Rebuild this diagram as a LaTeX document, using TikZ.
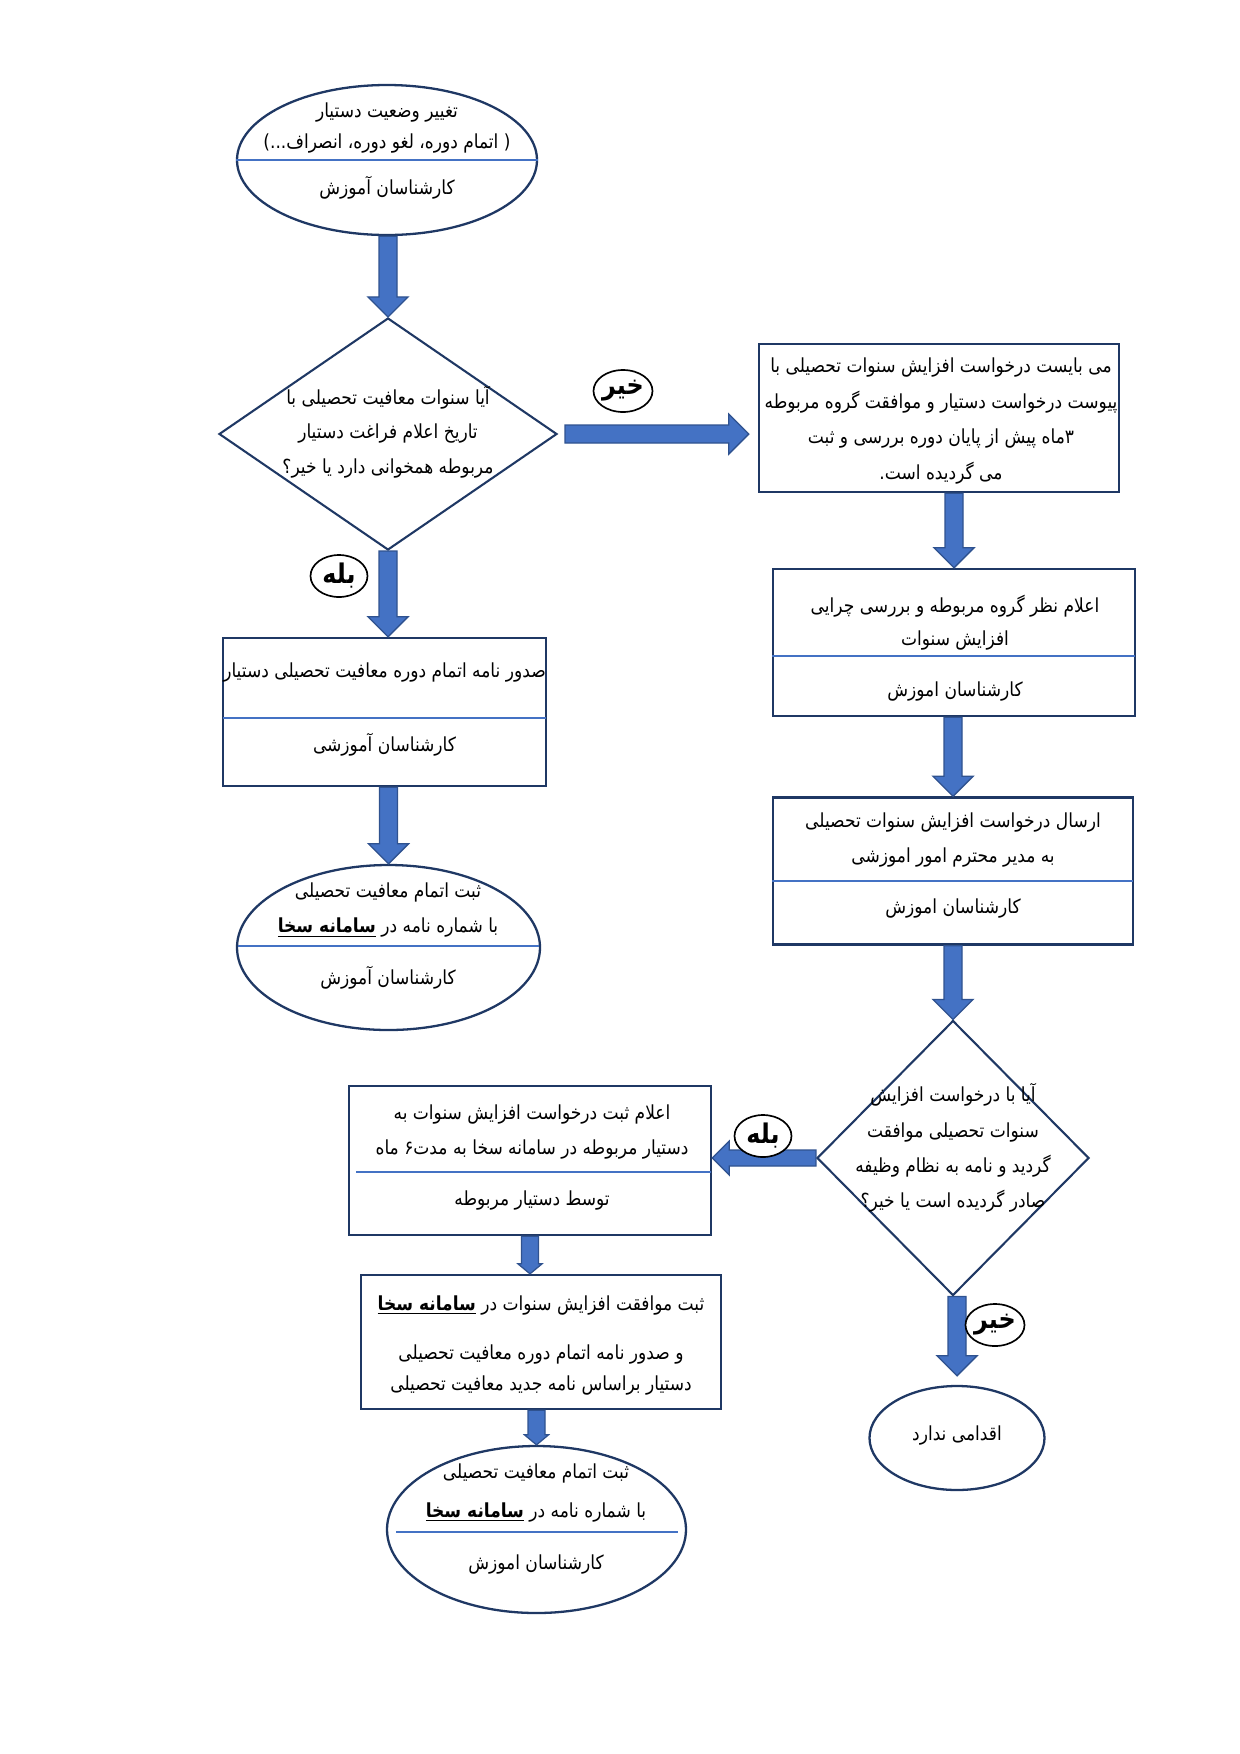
\documentclass[tikz,border=0pt]{standalone}
\usepackage{fontspec}
\usetikzlibrary{shapes.geometric,calc}
\TeXXeTstate=1
\newfontfamily\arabicfont[Script=Arabic, FakeStretch=0.88]{DejaVu Sans}
\newcommand\fa[1]{\beginR #1\endR}
\newcommand\sakha{\underline{\textbf{\beginR سامانه سخا\endR}}}
\definecolor{arrowblue}{HTML}{4472C4}
\definecolor{arrowedge}{HTML}{2F528F}
\definecolor{navy}{HTML}{1F3864}
\newcommand\varrow[5]{%
  \filldraw[barrow] let \p1=#1, \p2=#2 in
  (\x2-#3*0.48pt,\y1) -- (\x2-#3*0.48pt,\y2+#5*0.48pt) -- (\x2-#4*0.48pt,\y2+#5*0.48pt) --
  (\x2,\y2) -- (\x2+#4*0.48pt,\y2+#5*0.48pt) -- (\x2+#3*0.48pt,\y2+#5*0.48pt) -- (\x2+#3*0.48pt,\y1) -- cycle;}
\newcommand\harrow[6]{%
  \filldraw[barrow] let \p1=#1, \p2=#2 in
  (\x1,\y1-#3*0.48pt) -- (\x2#6#5*0.48pt,\y1-#3*0.48pt) -- (\x2#6#5*0.48pt,\y1-#4*0.48pt) --
  (\x2,\y1) -- (\x2#6#5*0.48pt,\y1+#4*0.48pt) -- (\x2#6#5*0.48pt,\y1+#3*0.48pt) -- (\x1,\y1+#3*0.48pt) -- cycle;}
\tikzset{
  box/.style={draw=navy, line width=1.1pt, fill=white, rectangle, inner sep=0pt},
  oval/.style={draw=navy, line width=1.1pt, fill=white, ellipse, inner sep=0pt},
  decision/.style={draw=navy, line width=1pt, fill=white, diamond, inner sep=0pt},
  txt/.style={font=\arabicfont\fontsize{9.3}{14.5}\selectfont, align=center, inner sep=0pt},
  divider/.style={draw=arrowblue, line width=0.5pt},
  tag/.style={draw=black, line width=0.8pt, fill=white, ellipse, minimum width=57*0.48pt, minimum height=42*0.48pt, inner sep=0pt, font=\arabicfont\bfseries\fontsize{13}{14}\selectfont},
  barrow/.style={fill=arrowblue, draw=arrowedge, line width=0.6pt}
}
\begin{document}
\begin{tikzpicture}[x=0.48pt, y=-0.48pt]
\useasboundingbox (0,0) rectangle (1240,1754);
% ---- shapes
\node[oval, minimum width=300*0.48pt, minimum height=150*0.48pt] (e1) at (387,160) {};
\node[decision, minimum width=338*0.48pt, minimum height=232*0.48pt] (d1) at (388,434) {};
\node[box, minimum width=323*0.48pt, minimum height=148*0.48pt] (b1) at (384.5,712) {};
\node[oval, minimum width=303*0.48pt, minimum height=165*0.48pt] (e2) at (388.5,947.5) {};
\node[box, minimum width=360*0.48pt, minimum height=148*0.48pt] (r1) at (939,418) {};
\node[box, minimum width=362*0.48pt, minimum height=147*0.48pt] (r2) at (954,642.5) {};
\node[box, minimum width=360*0.48pt, minimum height=147*0.48pt] (r3) at (953,871) {};
\node[decision, minimum width=272*0.48pt, minimum height=275*0.48pt] (d2) at (953,1158) {};
\node[box, minimum width=362*0.48pt, minimum height=149*0.48pt] (b4) at (530,1160.5) {};
\node[box, minimum width=360*0.48pt, minimum height=134*0.48pt] (b5) at (541,1342) {};
\node[oval, minimum width=299*0.48pt, minimum height=167*0.48pt] (e3) at (536.5,1529.5) {};
\node[oval, minimum width=175*0.48pt, minimum height=104*0.48pt] (er) at (957,1438) {};
% ---- dividers
\draw[divider] (e1.west) -- (e1.east);
\coordinate (b1dl) at (223,718); \coordinate (b1dr) at (546,718);
\draw[divider] (b1dl) -- (b1dr);
\coordinate (e2dl) at (238,946); \coordinate (e2dr) at (539,946);
\draw[divider] (e2dl) -- (e2dr);
\coordinate (r2dl) at (772,656); \coordinate (r2dr) at (1135,656);
\draw[divider] (r2dl) -- (r2dr);
\coordinate (r3dl) at (772,881); \coordinate (r3dr) at (1133,881);
\draw[divider] (r3dl) -- (r3dr);
\coordinate (b4dl) at (356,1172); \coordinate (b4dr) at (711,1172);
\draw[divider] (b4dl) -- (b4dr);
\coordinate (e3dl) at (396,1532); \coordinate (e3dr) at (678,1532);
\draw[divider] (e3dl) -- (e3dr);
% ---- arrows
\varrow{(e1.south)}{(d1.north)}{9}{20}{20}
\varrow{(d1.south)}{(b1.north -| d1.south)}{9}{20}{20}
\varrow{(b1.south)}{(e2.north)}{9}{20}{20}
\harrow{($(d1.east)+(7,0)$)}{($(r1.west |- d1.east)+(-9,0)$)}{9}{20}{20}{-}
\varrow{(r1.south)}{(r2.north)}{9}{20}{20}
\varrow{(r2.south)}{(r3.north)}{9}{20}{20}
\varrow{(r3.south)}{(d2.north)}{9}{20}{20}
\harrow{(d2.west)}{(b4.east |- d2.west)}{8}{17}{17}{+}
\varrow{(b4.south)}{(b5.north -| b4.south)}{8.5}{12}{10}
\varrow{(b5.south)}{(e3.north)}{8.5}{12}{10}
\varrow{(d2.south)}{($(er.north)+(0,-9)$)}{9}{20}{20}
% ---- texts
\node[txt] (te1a) at (387,128) {\fa{تغییر وضعیت دستیار}\\\fa{( اتمام دوره، لغو دوره، انصراف...)}};
\node[txt] (te1b) at (387,188) {\fa{کارشناسان آموزش}};
\node[txt, font=\arabicfont\fontsize{9.3}{16.5}\selectfont] (td1) at (388,432) {\fa{آیا سنوات معافیت تحصیلی با}\\\fa{تاریخ اعلام فراغت دستیار}\\\fa{مربوطه همخوانی دارد یا خیر؟}};
\node[txt] (tb1a) at (384.5,672) {\fa{صدور نامه اتمام دوره معافیت تحصیلی دستیار}};
\node[txt] (tb1b) at (384.5,745) {\fa{کارشناسان آموزشی}};
\node[txt, font=\arabicfont\fontsize{9.3}{17}\selectfont] (te2a) at (388,910) {\fa{ثبت اتمام معافیت تحصیلی}\\\fa{با شماره نامه در \sakha}};
\node[txt] (te2b) at (388,978) {\fa{کارشناسان آموزش}};
\node[txt, font=\arabicfont\fontsize{9.3}{17.2}\selectfont] (tr1) at (941,421) {\fa{می بایست درخواست افزایش سنوات تحصیلی با}\\\fa{پیوست درخواست دستیار و موافقت گروه مربوطه}\\\fa{۳ماه پیش از پایان دوره بررسی و ثبت}\\\fa{می گردیده است.}};
\node[txt, font=\arabicfont\fontsize{9.3}{16}\selectfont] (tr2a) at (955,623) {\fa{اعلام نظر گروه مربوطه و بررسی چرایی}\\\fa{افزایش سنوات}};
\node[txt] (tr2b) at (955,691) {\fa{کارشناسان اموزش}};
\node[txt, font=\arabicfont\fontsize{9.3}{16.5}\selectfont] (tr3a) at (953,840) {\fa{ارسال درخواست افزایش سنوات تحصیلی}\\\fa{به مدیر محترم امور اموزشی}};
\node[txt] (tr3b) at (953,908) {\fa{کارشناسان اموزش}};
\node[txt, font=\arabicfont\fontsize{9.3}{17}\selectfont] (td2) at (953,1148) {\fa{آیا با درخواست افزایش}\\\fa{سنوات تحصیلی موافقت}\\\fa{گردید و نامه به نظام وظیفه}\\\fa{صادر گردیده است یا خیر؟}};
\node[txt, font=\arabicfont\fontsize{9.3}{16.5}\selectfont] (tb4a) at (532,1132) {\fa{اعلام ثبت درخواست افزایش سنوات به}\\\fa{دستیار مربوطه در سامانه سخا به مدت۶ ماه}};
\node[txt] (tb4b) at (532,1200) {\fa{توسط دستیار مربوطه}};
\node[txt] (tb5a) at (541,1305) {\fa{ثبت موافقت افزایش سنوات در \sakha}};
\node[txt] (tb5b) at (541,1370) {\fa{و صدور نامه اتمام دوره معافیت تحصیلی}\\\fa{دستیار براساس نامه جدید معافیت تحصیلی}};
\node[txt, font=\arabicfont\fontsize{9.3}{18.5}\selectfont] (te3a) at (536,1493) {\fa{ثبت اتمام معافیت تحصیلی}\\\fa{با شماره نامه در \sakha}};
\node[txt] (te3b) at (536,1564) {\fa{کارشناسان اموزش}};
\node[txt] (ter) at (957,1435) {\fa{اقدامی ندارد}};
% ---- yes/no tags
\node[tag] (no1) at (623,391) {\fa{خیر}};
\node[tag] (yes1) at (339,576) {\fa{بله}};
\node[tag] (yes2) at (763,1136) {\fa{بله}};
\node[tag] (no2) at (995,1325) {\fa{خیر}};
\end{tikzpicture}
\end{document}
